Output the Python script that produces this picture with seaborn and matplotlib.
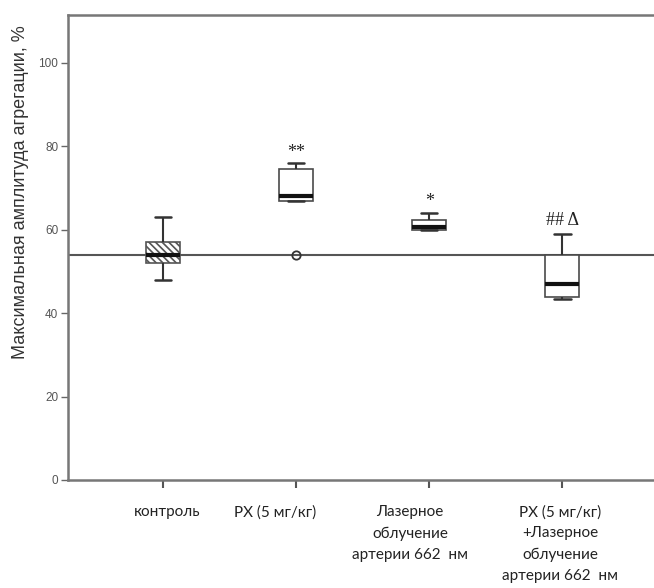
import numpy as np
import pandas as pd
import seaborn as sns
import matplotlib.pyplot as plt
from matplotlib.transforms import ScaledTranslation

# Group labels (x axis)
groups = [
    "контроль",
    "РХ (5 мг/кг)",
    "Лазерное\nоблучение\nартерии 662  нм",
    "РХ (5 мг/кг)\n+Лазерное\nоблучение\nартерии 662  нм",
]

# Individual measurements per group, % of maximal aggregation amplitude
control = [48, 52, 54, 57, 63]
px_only = [54, 67, 67, 67.5, 68, 70, 74.5, 75, 76]
laser_only = [60, 60, 60.7, 62.3, 64]
px_laser = [43.3, 44, 47, 54, 59]

# Significance marks above each group and their heights
marks = ["", "**", "*", "## Δ"]
mark_levels = [None, 78.5, 66.8, 62.2]

# Reference level (control median)
ref_level = 54

yticks = [0, 20, 40, 60, 80, 100]
ylabel = "Максимальная амплитуда агрегации, %"

series = [control, px_only, laser_only, px_laser]
df = pd.DataFrame({
    "group": np.concatenate([[g] * len(v) for g, v in zip(groups, series)]),
    "value": np.concatenate(series),
})

sns.set_style("white")
plt.rcParams["font.family"] = ["Liberation Sans", "DejaVu Sans"]
plt.rcParams["hatch.linewidth"] = 1.2

fig = plt.figure(figsize=(6.54, 5.88), dpi=100)
ax = fig.add_axes([68 / 654, 108 / 588, 586 / 654, 465 / 588])

ax.axhline(ref_level, color="#555555", lw=1.5, zorder=1)

sns.boxplot(
    data=df, x="group", y="value", order=groups, ax=ax,
    width=0.26, color="white", linecolor="#4a4a4a", linewidth=1.2,
    whis=1.5, capwidths=0.125,
    medianprops=dict(color="#111111", linewidth=3),
    whiskerprops=dict(color="#333333", linewidth=1.5),
    capprops=dict(color="#333333", linewidth=1.8),
    flierprops=dict(marker="o", markersize=6, markerfacecolor="none",
                    markeredgecolor="#333333", markeredgewidth=1.3),
)

# Hatched fill for the control box
ax.patches[0].set_hatch("\\\\\\\\\\")
ax.patches[0].set_edgecolor("#555555")

for i, (txt, lvl) in enumerate(zip(marks, mark_levels)):
    if txt:
        ax.text(i, lvl, txt, ha="center", va="center", fontsize=13,
                family=["Liberation Serif", "DejaVu Serif"], color="#222222")

ax.set_xlim(-0.714, 3.69)
ax.set_ylim(0, 111.5)
ax.set_yticks(yticks)
ax.set_yticklabels([str(t) for t in yticks], fontsize=8.5, color="#555555")
ax.set_xlabel("")
ax.set_ylabel(ylabel, fontsize=13, color="#333333")
ax.yaxis.set_label_coords(-0.066, 0.62)

ax.tick_params(axis="y", direction="out", length=5, width=1, color="#666666", pad=2, left=True)
ax.tick_params(axis="x", direction="out", length=6, width=1.5, color="#555555", pad=12, bottom=True)

ax.set_xticks(range(len(groups)))
ax.set_xticklabels(groups, fontsize=11, family=["Lato", "DejaVu Sans"],
                   color="#222222", linespacing=1.65, va="top")
shifts = [4, -21, -19, -2]
for lab, dx in zip(ax.get_xticklabels(), shifts):
    lab.set_transform(lab.get_transform() + ScaledTranslation(dx / 100, 0, fig.dpi_scale_trans))

for side in ["left", "bottom", "top"]:
    ax.spines[side].set_visible(True)
    ax.spines[side].set_color("#777777")
    ax.spines[side].set_linewidth(1.8)
ax.spines["right"].set_visible(False)

fig.savefig("out.png", dpi=100)
